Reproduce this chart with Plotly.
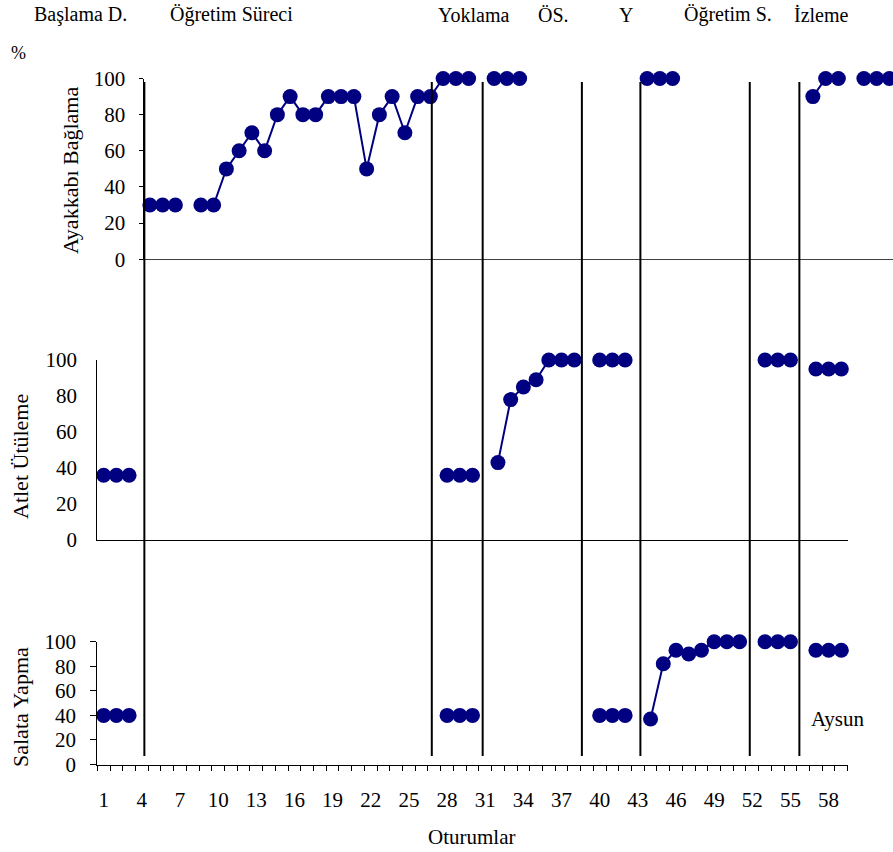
import plotly.graph_objects as go

# Session numbers shown on the horizontal axis (1..59)
sessions = list(range(1, 60))
tick_sessions = list(range(1, 59, 3))

# Percent correct per session; None where no session was recorded
ayakkabi_pct = [30, 30, 30, None, 30, 30, 50, 60, 70, 60,
                80, 90, 80, 80, 90, 90, 90, 50, 80, 90,
                70, 90, 90, 100, 100, 100, None, 100, 100, 100,
                None, None, None, None, None, None, None, None, None, 100,
                100, 100, None, None, None, None, None, None, None, None,
                None, None, 90, 100, 100, None, 100, 100, 100]

atlet_pct = [36, 36, 36, None, None, None, None, None, None, None,
             None, None, None, None, None, None, None, None, None, None,
             None, None, None, None, None, None, None, 36, 36, 36,
             None, 43, 78, 85, 89, 100, 100, 100, None, 100,
             100, 100, None, None, None, None, None, None, None, None,
             None, None, 100, 100, 100, None, 95, 95, 95]

salata_pct = [40, 40, 40, None, None, None, None, None, None, None,
              None, None, None, None, None, None, None, None, None, None,
              None, None, None, None, None, None, None, 40, 40, 40,
              None, None, None, None, None, None, None, None, None, 40,
              40, 40, None, 37, 82, 93, 90, 93, 100, 100,
              100, None, 100, 100, 100, None, 93, 93, 93]

# Phase change lines (in session units) and phase names
phase_changes = [4.2, 26.8, 30.8, 38.6, 43.2, 51.8, 55.7]
phase_names = ["Başlama D.", "Öğretim Süreci", "Yoklama", "ÖS.", "Y", "Öğretim S.", "İzleme"]
phase_name_px = [80, 231, 473, 553, 626, 728, 821]

y_ticks = [0, 20, 40, 60, 80, 100]

W, H = 893, 852
FONT = "'Liberation Serif', 'Times New Roman', serif"
NAVY = "#000080"


def fx(p):
    return p / W


def fy(p):
    return 1 - p / H


fig = go.Figure()

for vals, xa, ya in [(ayakkabi_pct, "x", "y"), (atlet_pct, "x2", "y2"), (salata_pct, "x3", "y3")]:
    fig.add_trace(go.Scatter(
        x=sessions, y=vals, xaxis=xa, yaxis=ya, mode="lines+markers",
        line=dict(color=NAVY, width=2), marker=dict(color=NAVY, size=15, line=dict(width=0)),
        connectgaps=False, cliponaxis=False, showlegend=False, hoverinfo="skip"))

tickfont = dict(family=FONT, size=21, color="black")
step = 12.75
top_left = 143.5

fig.update_layout(
    width=W, height=H, margin=dict(l=0, r=0, t=0, b=0, autoexpand=False),
    paper_bgcolor="white", plot_bgcolor="white", showlegend=False,
    font=dict(family=FONT, color="black"),
    # Top panel: Ayakkabı Bağlama
    xaxis=dict(domain=[fx(top_left), 1], range=[0.5, 0.5 + (W - top_left) / step],
               showline=True, linecolor="#404040", linewidth=1, ticks="",
               showticklabels=False, showgrid=False, zeroline=False, anchor="y",
               automargin=False),
    yaxis=dict(domain=[fy(259.3), fy(78.5)], range=[0, 100], tickvals=y_ticks,
               ticks="outside", ticklen=4, tickcolor="black", showline=True,
               linecolor="black", linewidth=1, showgrid=False, zeroline=False,
               tickfont=tickfont, ticklabelstandoff=9, anchor="x", automargin=False),
    # Middle panel: Atlet Ütüleme
    xaxis2=dict(domain=[fx(97.3), fx(847.7)], range=[0.5, 59.5], showline=True,
                linecolor="black", linewidth=1, ticks="", showticklabels=False,
                showgrid=False, zeroline=False, anchor="y2", automargin=False),
    yaxis2=dict(domain=[fy(540), fy(360)], range=[0, 100], tickvals=y_ticks, ticks="",
                showline=True, linecolor="black", linewidth=1, showgrid=False,
                zeroline=False, tickfont=tickfont, ticklabelstandoff=15, anchor="x2",
                automargin=False),
    # Bottom panel: Salata Yapma
    xaxis3=dict(domain=[fx(97.3), fx(847.7)], range=[0.5, 59.5], tickvals=tick_sessions,
                ticktext=[str(t) for t in tick_sessions], ticks="", showline=True,
                linecolor="black", linewidth=1, showgrid=False, zeroline=False,
                tickfont=tickfont, ticklabelstandoff=16, anchor="y3", automargin=False,
                minor=dict(tick0=0.5, dtick=1, ticks="outside", ticklen=5,
                           tickcolor="black", tickwidth=1, showgrid=False)),
    yaxis3=dict(domain=[fy(764.5), fy(641.7)], range=[0, 100], tickvals=y_ticks,
                ticks="outside", ticklen=6, tickcolor="black", showline=True,
                linecolor="black", linewidth=1, showgrid=False, zeroline=False,
                tickfont=tickfont, ticklabelstandoff=10, anchor="x3", automargin=False),
)

# Vertical phase-change lines spanning all three panels
for xc in phase_changes:
    fig.add_shape(type="line", xref="x3", yref="paper", x0=xc, x1=xc,
                  y0=fy(756), y1=fy(82), line=dict(color="black", width=2))

ann = []
for name, cx in zip(phase_names, phase_name_px):
    ann.append(dict(text=name, x=fx(cx), y=fy(15), font=dict(family=FONT, size=20)))
ann.append(dict(text="%", x=fx(18), y=fy(53), font=dict(family=FONT, size=18)))
ann.append(dict(text="Ayakkabı Bağlama", x=fx(70), y=fy(171), textangle=-90,
                font=dict(family=FONT, size=22)))
ann.append(dict(text="Atlet Ütüleme", x=fx(20), y=fy(457), textangle=-90,
                font=dict(family=FONT, size=22)))
ann.append(dict(text="Salata Yapma", x=fx(20), y=fy(707), textangle=-90,
                font=dict(family=FONT, size=22)))
ann.append(dict(text="Aysun", x=fx(837), y=fy(719), font=dict(family=FONT, size=21)))
ann.append(dict(text="Oturumlar", x=fx(472), y=fy(837), font=dict(family=FONT, size=21)))

for a in ann:
    a.update(xref="paper", yref="paper", xanchor="center", yanchor="middle",
             showarrow=False)
    a["font"]["color"] = "black"
    fig.add_annotation(**a)

fig.write_html("out.html")
